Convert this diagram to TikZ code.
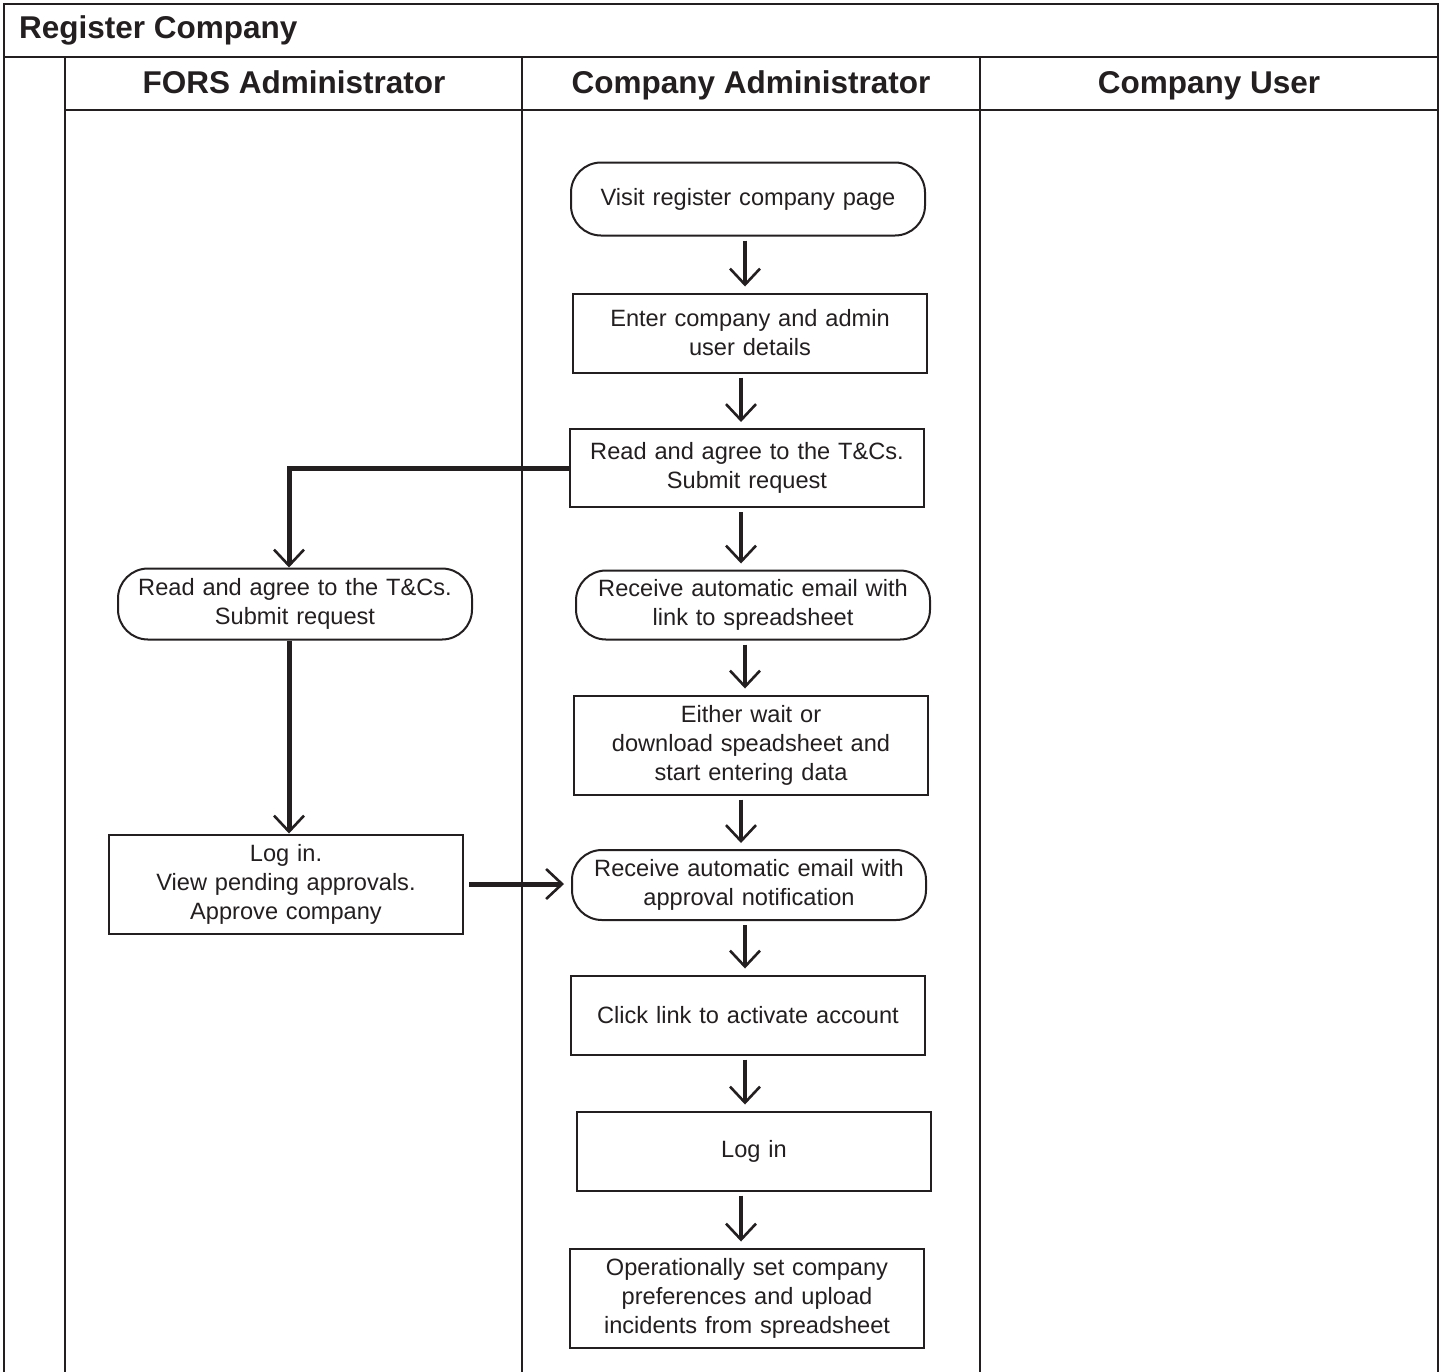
\documentclass[tikz,border=0pt]{standalone}
\usepackage{fontspec}
\setmainfont{Liberation Sans}
\usetikzlibrary{arrows.meta}
\definecolor{ink}{HTML}{231F20}
\begin{document}
\begin{tikzpicture}[x=1pt,y=-1pt,
  lane/.style={line width=2pt, draw=ink},
  lanetitle/.style={font=\fontsize{31.5}{36}\selectfont\bfseries, text=ink, inner sep=0pt, anchor=base},
  box/.style={draw=ink, line width=2pt, minimum width=354pt, align=center,
    text width=346pt, font=\fontsize{23.6}{29}\selectfont, text=ink, inner sep=0pt, fill=white},
  rbox/.style={box, rounded corners=30pt},
  flow/.style={line width=3.3pt, draw=ink, shorten <=4pt, shorten >=6pt,
    -{Straight Barb[length=16pt,width=30pt,line width=2.6pt]}},
  bigflow/.style={line width=5pt, draw=ink,
    -{Straight Barb[length=16pt,width=30pt,line width=2.6pt]}}]
\useasboundingbox (0,0) rectangle (1447,1371);
% swimlane frame
\draw[lane] (4,1380) -- (4,4) -- (1438,4) -- (1438,1380);
\draw[lane] (4,57) -- (1438,57);
\draw[lane] (65,57) -- (65,1380);
\draw[lane] (522,57) -- (522,1380);
\draw[lane] (980,57) -- (980,1380);
\draw[lane] (65,110) -- (1438,110);
\node[lanetitle, anchor=base west] (title) at (19,38) {Register Company};
\node[lanetitle] (h1) at (294,93) {FORS Administrator};
\node[lanetitle] (h2) at (751,93) {Company Administrator};
\node[lanetitle] (h3) at (1209,93) {Company User};
% company administrator lane
\node[rbox, minimum height=73pt] (n1) at (748,199) {Visit register company page};
\node[box, minimum height=79pt] (n2) at (750,333) {Enter company and admin\\user details};
\node[box, minimum height=78pt] (n3) at (747,468) {Read and agree to the T\&Cs.\\Submit request};
\node[rbox, minimum height=69pt] (n4) at (753,605) {Receive automatic email with\\link to spreadsheet};
\node[box, minimum height=99pt] (n5) at (751,745) {Either wait or\\download speadsheet and\\start entering data};
\node[rbox, minimum height=70pt] (n6) at (749,885) {Receive automatic email with\\approval notification};
\node[box, minimum height=79pt] (n7) at (748,1015) {Click link to activate account};
\node[box, minimum height=79pt] (n8) at (754,1151) {Log in};
\node[box, minimum height=99pt] (n9) at (747,1298) {Operationally set company\\preferences and upload\\incidents from spreadsheet};
% FORS administrator lane
\node[rbox, minimum height=71pt] (f1) at (295,604) {Read and agree to the T\&Cs.\\Submit request};
\node[box, minimum height=99pt] (f2) at (286,884) {Log in.\\View pending approvals.\\Approve company};
% connectors
\draw[flow] (n1.south -| 745,0) -- (n2.north -| 745,0);
\draw[flow] (n2.south -| 741,0) -- (n3.north -| 741,0);
\draw[flow] (n3.south -| 741,0) -- (n4.north -| 741,0);
\draw[flow] (n4.south -| 745,0) -- (n5.north -| 745,0);
\draw[flow] (n5.south -| 741,0) -- (n6.north -| 741,0);
\draw[flow] (n6.south -| 745,0) -- (n7.north -| 745,0);
\draw[flow] (n7.south -| 745,0) -- (n8.north -| 745,0);
\draw[flow] (n8.south -| 741,0) -- (n9.north -| 741,0);
\draw[bigflow] (n3.west) -| (f1.north -| 289,0);
\draw[bigflow] (f1.south -| 289,0) -- (f2.north -| 289,0);
\draw[bigflow, shorten <=5pt, shorten >=7pt] (f2.east) -- (f2.east -| n6.west);
\end{tikzpicture}
\end{document}
